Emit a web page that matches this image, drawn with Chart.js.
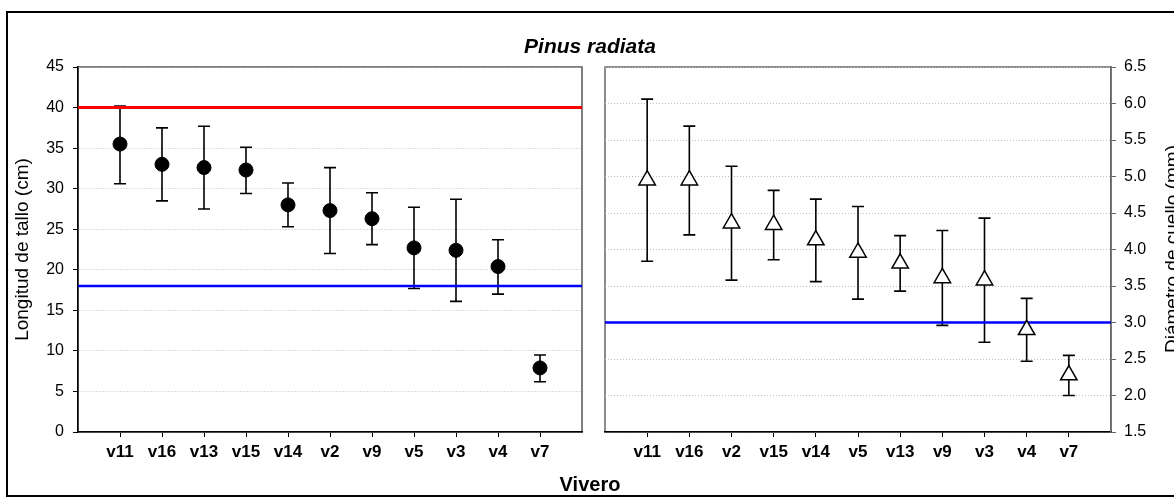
<!DOCTYPE html>
<html>
<head>
<meta charset="utf-8">
<script src="https://cdn.jsdelivr.net/npm/chart.js@4.4.0/dist/chart.umd.min.js"></script>
<style>
  html, body { margin: 0; padding: 0; background: #fff; }
  #page { position: relative; width: 1174px; height: 497px; overflow: hidden; background: #fff; }
  #frame { position: absolute; left: 6px; top: 11px; width: 1200px; height: 482px; border: 2px solid #000; }
  #lengthChart { position: absolute; left: 0; top: 0; }
  #diamChart { position: absolute; left: 590px; top: 0; }
  .label { position: absolute; color: #000; white-space: nowrap; font-family: Arial, "Liberation Sans", sans-serif; }
  #title { left: 590px; top: 46px; transform: translate(-50%, -50%); font-size: 21px; font-weight: bold; font-style: italic; }
  #xTitle { left: 590px; top: 484px; transform: translate(-50%, -50%); font-size: 20px; font-weight: bold; }
  #diamTitle { left: 1172px; top: 249px; transform: translate(-50%, -50%) rotate(-90deg); font-size: 19px; }
</style>
</head>
<body>
<div id="page">
  <div id="frame"></div>
  <canvas id="lengthChart" width="590" height="497"></canvas>
  <canvas id="diamChart" width="610" height="497"></canvas>
  <div class="label" id="title">Pinus radiata</div>
  <div class="label" id="xTitle">Vivero</div>
  <div class="label" id="diamTitle">Diámetro de cuello (mm)</div>
</div>
<script>
// Stem length (cm) by nursery, sorted by mean
const lengthNurseries = ['v11', 'v16', 'v13', 'v15', 'v14', 'v2', 'v9', 'v5', 'v3', 'v4', 'v7'];
const lengthMean  = [35.5, 33.0, 32.6, 32.3, 28.0, 27.3, 26.3, 22.7, 22.4, 20.4, 7.9];
const lengthLower = [30.6, 28.5, 27.5, 29.4, 25.3, 22.0, 23.1, 17.7, 16.1, 17.0, 6.2];
const lengthUpper = [40.2, 37.5, 37.7, 35.1, 30.7, 32.6, 29.5, 27.7, 28.7, 23.7, 9.5];
const lengthMaxRef = 40;
const lengthMinRef = 18;

// Root collar diameter (mm) by nursery, sorted by mean
const diamNurseries = ['v11', 'v16', 'v2', 'v15', 'v14', 'v5', 'v13', 'v9', 'v3', 'v4', 'v7'];
const diamMean  = [4.95, 4.95, 4.36, 4.34, 4.13, 3.96, 3.81, 3.61, 3.58, 2.90, 2.28];
const diamLower = [3.84, 4.20, 3.58, 3.86, 3.56, 3.32, 3.43, 2.96, 2.73, 2.47, 2.00];
const diamUpper = [6.06, 5.69, 5.14, 4.81, 4.69, 4.59, 4.19, 4.26, 4.43, 3.33, 2.55];
const diamMinRef = 3.0;

Chart.defaults.font.family = 'Arial, "Liberation Sans", sans-serif';
Chart.defaults.color = '#000';

// Box around the plot area (axes drawn on top of it)
function plotFrame(color) {
    return {
        id: 'plotFrame',
        beforeDraw(chart) {
            const { ctx, chartArea: a } = chart;
            ctx.save();
            ctx.strokeStyle = color;
            ctx.lineWidth = 1.5;
            ctx.strokeRect(a.left, a.top, a.right - a.left, a.bottom - a.top);
            ctx.restore();
        }
    };
}

// Vertical error bars with caps, drawn under the markers
function errorBars(lower, upper) {
    return {
        id: 'errorBars',
        beforeDatasetsDraw(chart) {
            const { ctx, scales: { x, y } } = chart;
            const cap = 6;
            ctx.save();
            ctx.strokeStyle = '#000';
            ctx.lineWidth = 1.6;
            lower.forEach((lo, i) => {
                const px = x.getPixelForValue(i + 1);
                const yLo = y.getPixelForValue(lo);
                const yHi = y.getPixelForValue(upper[i]);
                ctx.beginPath();
                ctx.moveTo(px, yLo);
                ctx.lineTo(px, yHi);
                ctx.moveTo(px - cap, yLo);
                ctx.lineTo(px + cap, yLo);
                ctx.moveTo(px - cap, yHi);
                ctx.lineTo(px + cap, yHi);
                ctx.stroke();
            });
            ctx.restore();
        }
    };
}

function nurseryAxis(names) {
    return {
        type: 'linear',
        min: 0,
        max: 12,
        afterBuildTicks: s => { s.ticks = names.map((_, i) => ({ value: i + 1 })); },
        afterFit: s => { s.height = 65; },
        grid: { drawOnChartArea: false, drawTicks: true, tickLength: 5, tickColor: '#000', tickWidth: 1, tickBorderDash: [] },
        border: { color: '#000', width: 1.5 },
        ticks: {
            autoSkip: false,
            maxRotation: 0,
            padding: 5,
            font: { size: 17, weight: 'bold' },
            callback: v => names[v - 1]
        }
    };
}

function refLine(value, color, width) {
    return {
        type: 'line',
        data: [{ x: 0, y: value }, { x: 12, y: value }],
        borderColor: color,
        borderWidth: width,
        pointRadius: 0
    };
}

const baseOptions = {
    responsive: false,
    animation: false,
    events: [],
    plugins: { legend: { display: false }, tooltip: { enabled: false } }
};

// Left panel: stem length
new Chart(document.getElementById('lengthChart'), {
    type: 'scatter',
    data: {
        datasets: [
            {
                data: lengthMean.map((v, i) => ({ x: i + 1, y: v })),
                pointStyle: 'circle',
                pointRadius: 7,
                backgroundColor: '#000',
                borderColor: '#000',
                borderWidth: 1
            },
            refLine(lengthMaxRef, '#ff0000', 3),
            refLine(lengthMinRef, '#0000ff', 2.5)
        ]
    },
    options: {
        ...baseOptions,
        layout: { padding: { left: 0, right: 6, top: 67, bottom: 0 } },
        scales: {
            x: nurseryAxis(lengthNurseries),
            y: {
                position: 'left',
                min: 0,
                max: 45,
                afterFit: s => { s.width = 78; },
                grid: { color: '#bdbdbd', lineWidth: 1, tickLength: 5, tickColor: '#000', tickWidth: 1, tickBorderDash: [] },
                border: { color: '#000', width: 1.5, dash: [1, 2] },
                ticks: { stepSize: 5, padding: 9, font: { size: 16 } },
                title: {
                    display: true,
                    text: 'Longitud de tallo (cm)',
                    font: { size: 19 },
                    padding: { top: 11, bottom: 0 }
                }
            }
        }
    },
    plugins: [plotFrame('#555'), errorBars(lengthLower, lengthUpper)]
});

// Right panel: root collar diameter
new Chart(document.getElementById('diamChart'), {
    type: 'scatter',
    data: {
        datasets: [
            {
                data: diamMean.map((v, i) => ({ x: i + 1, y: v })),
                pointStyle: 'triangle',
                pointRadius: 9.5,
                backgroundColor: '#fff',
                borderColor: '#000',
                borderWidth: 1.5
            },
            refLine(diamMinRef, '#0000ff', 2.5)
        ]
    },
    options: {
        ...baseOptions,
        layout: { padding: { left: 15, right: 0, top: 67, bottom: 0 } },
        scales: {
            x: nurseryAxis(diamNurseries),
            y: {
                position: 'right',
                min: 1.5,
                max: 6.5,
                afterFit: s => { s.width = 89; },
                grid: { color: '#bdbdbd', lineWidth: 1, tickLength: 5, tickColor: '#666', tickWidth: 1, tickBorderDash: [] },
                border: { color: '#666', width: 1.5, dash: [1, 2] },
                ticks: { stepSize: 0.5, padding: 8, font: { size: 16 }, callback: v => v.toFixed(1) }
            }
        }
    },
    plugins: [plotFrame('#666'), errorBars(diamLower, diamUpper)]
});
</script>
</body>
</html>
